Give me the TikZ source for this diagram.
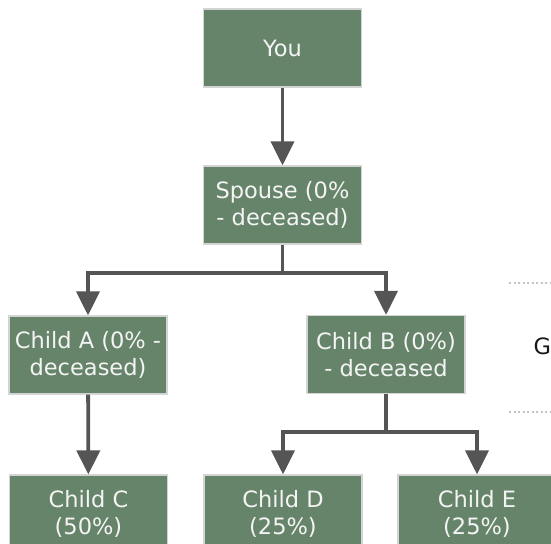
\documentclass[tikz,border=0pt]{standalone}
\usepackage{fontspec}
\setmainfont{DejaVu Sans}
\usetikzlibrary{arrows.meta}

\definecolor{boxgreen}{HTML}{66846A}
\definecolor{boxline}{HTML}{D4D4D4}
\definecolor{wire}{HTML}{555555}
\definecolor{boxtext}{HTML}{F4F4F4}

\begin{document}
\begin{tikzpicture}[x=1pt,y=-1pt,
-{Triangle[length=24pt 0 0,width=23pt 0 0]},line width=3.8pt,draw=wire,
every node/.style={rectangle,draw=boxline,line width=1.2pt,fill=boxgreen,
text=boxtext,minimum width=158pt,minimum height=78pt,align=center,
inner sep=0pt,font=\fontsize{22.5}{27}\selectfont}]

\useasboundingbox (0,0) rectangle (551,543);
\clip (0,0) rectangle (551,543);

\node (you) at (282.5, 48) {You};
\node (sp) at (282.5, 205) {Spouse (0\%\\- deceased)};
\node (a) at (88, 355) {Child A (0\% -\\deceased)};
\node (b) at (386, 354.5) {Child B (0\%)\\- deceased};
\node (c) at (88.5, 514) {Child C\\(50\%)};
\node (d) at (283, 514) {Child D\\(25\%)};
\node (e) at (477, 514) {Child E\\(25\%)};
\node[draw=none,fill=none,minimum width=0pt,minimum height=0pt,
text=black!90,anchor=west] (g) at (533, 346) {G};

\path[-,draw=boxline!80!gray,line width=2pt,dash pattern=on 2pt off 2.5pt]
(509, 283) coordinate (g1) edge (560, 283)
(509, 412) coordinate (g2) edge (560, 412);

\draw (you) -- (sp);
\draw (sp.south) -- ++(0,28) -| (a.north);
\draw (sp.south) -- ++(0,28) -| (b.north);
\draw (a) -- (c);
\draw (b.south) -- ++(0,38) -| (d.north);
\draw (b.south) -- ++(0,38) -| (e.north);
\end{tikzpicture}
\end{document}
